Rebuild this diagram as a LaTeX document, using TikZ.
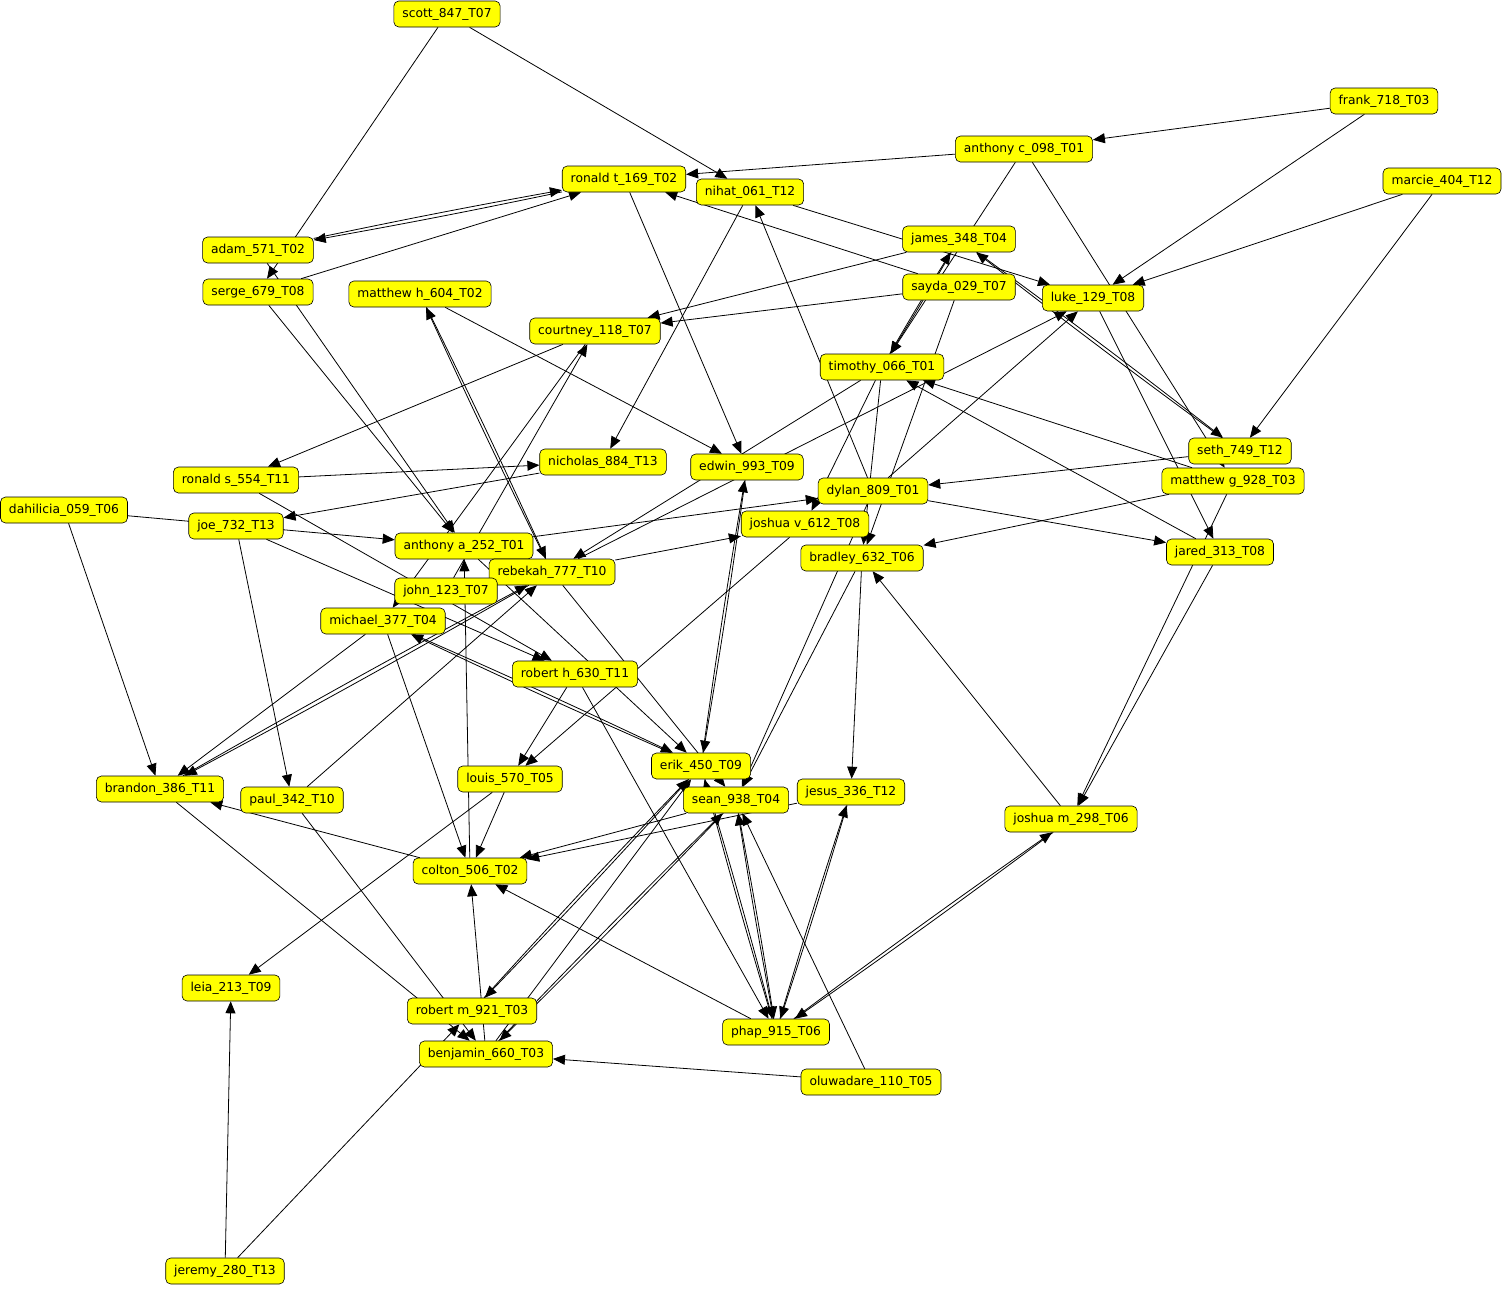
\documentclass[tikz,border=0pt]{standalone}
\usepackage{fontspec}
\setmainfont{DejaVu Sans}
\usetikzlibrary{arrows.meta}
\pgfdeclarelayer{bg}
\pgfdeclarelayer{paper}
\pgfsetlayers{paper,bg,main}
\definecolor{boxyellow}{RGB}{255,255,0}
\tikzset{
  person/.style={draw=black, line width=0.6pt, fill=boxyellow, rounded corners=5pt,
    minimum height=26pt, inner xsep=8.5pt, inner ysep=0pt,
    font=\fontsize{12.3}{14}\selectfont},
  edge/.style={-{Triangle[length=12pt,width=10pt]}, line width=0.8pt, black},
  dbl/.style={edge, bend left=0.8}
}
\begin{document}
\begin{tikzpicture}[x=1pt,y=-1pt]
\begin{pgfonlayer}{paper}
\fill[white] (0,0) rectangle (1504,1288);
\end{pgfonlayer}
\useasboundingbox (0,0) rectangle (1504,1288);
\node[person] (scott) at (447,14) {scott\_847\_T07};
\node[person] (frank) at (1384,101) {frank\_718\_T03};
\node[person] (anthonyc) at (1024,149) {anthony c\_098\_T01};
\node[person] (marcie) at (1442,181) {marcie\_404\_T12};
\node[person] (ronaldt) at (624,179) {ronald t\_169\_T02};
\node[person] (nihat) at (750,192) {nihat\_061\_T12};
\node[person] (adam) at (258,250) {adam\_571\_T02};
\node[person] (james) at (959,239) {james\_348\_T04};
\node[person] (serge) at (258,292) {serge\_679\_T08};
\node[person] (matthewh) at (420,294) {matthew h\_604\_T02};
\node[person] (sayda) at (959,287) {sayda\_029\_T07};
\node[person] (luke) at (1093,298) {luke\_129\_T08};
\node[person] (courtney) at (595,331) {courtney\_118\_T07};
\node[person] (timothy) at (882,367) {timothy\_066\_T01};
\node[person] (seth) at (1240,451) {seth\_749\_T12};
\node[person] (nicholas) at (603,462) {nicholas\_884\_T13};
\node[person] (edwin) at (747,467) {edwin\_993\_T09};
\node[person] (ronalds) at (236,480) {ronald s\_554\_T11};
\node[person] (matthewg) at (1233,481) {matthew g\_928\_T03};
\node[person] (dylan) at (873,491) {dylan\_809\_T01};
\node[person] (dahilicia) at (64,510) {dahilicia\_059\_T06};
\node[person] (joe) at (236,526) {joe\_732\_T13};
\node[person] (joshuav) at (805,524) {joshua v\_612\_T08};
\node[person] (anthonya) at (464,546) {anthony a\_252\_T01};
\node[person] (jared) at (1220,552) {jared\_313\_T08};
\node[person] (bradley) at (862,558) {bradley\_632\_T06};
\node[person] (rebekah) at (552,572) {rebekah\_777\_T10};
\node[person] (john) at (446,591) {john\_123\_T07};
\node[person] (michael) at (383,621) {michael\_377\_T04};
\node[person] (roberth) at (575,674) {robert h\_630\_T11};
\node[person] (erik) at (701,766) {erik\_450\_T09};
\node[person] (louis) at (510,779) {louis\_570\_T05};
\node[person] (brandon) at (160,789) {brandon\_386\_T11};
\node[person] (sean) at (736,800) {sean\_938\_T04};
\node[person] (jesus) at (851,792) {jesus\_336\_T12};
\node[person] (paul) at (292,800) {paul\_342\_T10};
\node[person] (joshuam) at (1071,819) {joshua m\_298\_T06};
\node[person] (colton) at (470,871) {colton\_506\_T02};
\node[person] (leia) at (231,988) {leia\_213\_T09};
\node[person] (robertm) at (472,1011) {robert m\_921\_T03};
\node[person] (phap) at (776,1032) {phap\_915\_T06};
\node[person] (benjamin) at (486,1054) {benjamin\_660\_T03};
\node[person] (oluwadare) at (871,1082) {oluwadare\_110\_T05};
\node[person] (jeremy) at (225,1271) {jeremy\_280\_T13};
\begin{pgfonlayer}{bg}
\foreach \a/\b in {scott/serge, scott/nihat, frank/anthonyc, frank/luke, marcie/luke,
  marcie/seth, anthonyc/ronaldt, anthonyc/timothy, anthonyc/matthewg, serge/ronaldt,
  ronaldt/edwin, sayda/ronaldt, nihat/luke, nihat/nicholas, dylan/nihat, james/courtney,
  sayda/courtney, sayda/bradley, luke/jared, rebekah/luke, dylan/luke, matthewg/timothy,
  jared/timothy, seth/dylan, matthewg/bradley, matthewg/joshuam, jared/joshuam, dylan/jared,
  anthonya/dylan, timothy/joshuav, timothy/bradley, timothy/rebekah, joshuav/louis,
  bradley/jesus, bradley/sean, dylan/sean, joshuam/bradley, matthewh/edwin,
  courtney/ronalds, ronalds/nicholas, nicholas/joe, ronalds/roberth, joe/roberth,
  adam/anthonya, serge/anthonya, john/courtney, courtney/michael, dahilicia/anthonya,
  dahilicia/brandon, joe/paul, colton/anthonya, michael/colton, louis/colton,
  anthonya/erik, rebekah/joshuav, rebekah/sean, paul/rebekah, michael/brandon,
  roberth/louis, roberth/phap, benjamin/erik, brandon/benjamin, paul/benjamin,
  jeremy/robertm, jeremy/leia, phap/colton, oluwadare/benjamin, oluwadare/sean,
  benjamin/colton, sean/colton, jesus/colton, louis/leia, colton/brandon}
  \draw[edge] (\a) -- (\b);
\foreach \a/\b in {adam/ronaldt, james/timothy, james/seth, matthewh/rebekah,
  brandon/rebekah, erik/edwin, michael/erik, robertm/erik, benjamin/sean, sean/phap,
  erik/phap, jesus/phap, joshuam/phap}
  {\draw[dbl] (\a) to (\b); \draw[dbl] (\b) to (\a);}
\end{pgfonlayer}
\end{tikzpicture}
\end{document}
